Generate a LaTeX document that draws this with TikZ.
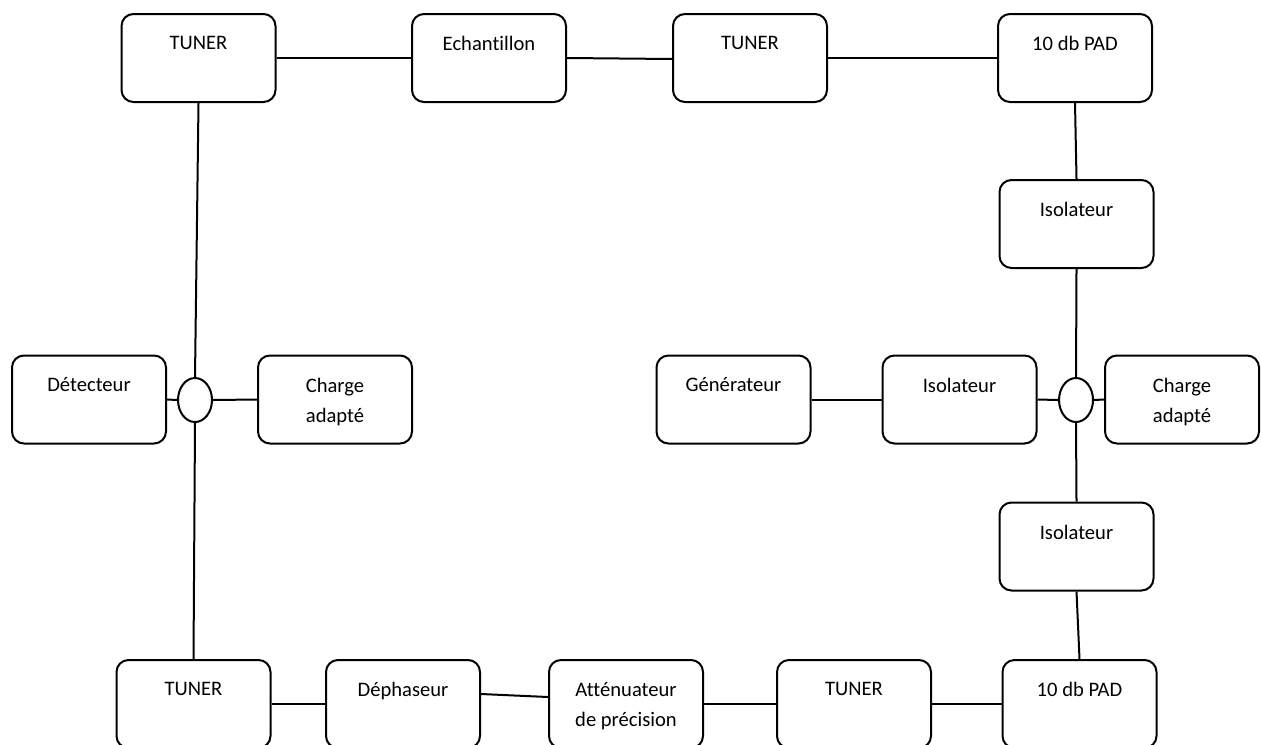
\documentclass[tikz,border=0pt]{standalone}
\usepackage{fontspec}
\setmainfont[Ligatures=CommonOff]{Carlito}
\usetikzlibrary{calc,shapes.geometric}

\tikzset{
  blk/.style={draw, line width=1pt, rounded corners=6pt, minimum width=77pt,
              minimum height=44pt, inner sep=0pt},
  junction/.style={draw, line width=1pt, ellipse, minimum width=17pt,
                   minimum height=22pt, inner sep=0pt},
  lbl/.style={anchor=north, inner sep=0pt, align=center,
              font=\fontsize{10.3}{15}\selectfont},
  wire/.style={line width=1pt}
}

\begin{document}
\begin{tikzpicture}[x=0.5pt, y=-0.5pt]
\useasboundingbox (0,0) rectangle (1261,744);
\clip (0,0) rectangle (1261,744);

% top row
\node[blk] (t1)   at (198.5,58) {};
\node[blk] (ech)  at (489,58)   {};
\node[blk] (t2)   at (750,58)   {};
\node[blk] (pad1) at (1075,58)  {};

% right column
\node[blk] (iso1) at (1076.5,224)   {};
\node[blk] (iso3) at (1076.5,546.5) {};

% middle row
\node[blk] (det)  at (89,399.5) {};
\node[junction] (ell1) at (195,400) {};
\node[blk] (ch1)  at (335,399.5) {};
\node[blk] (gen)  at (733.5,399.5) {};
\node[blk] (iso2) at (959.5,399.5) {};
\node[junction] (ell2) at (1076,400) {};
\node[blk] (ch2)  at (1182,399.5) {};

% bottom row
\node[blk] (t3)   at (193.5,704) {};
\node[blk] (deph) at (403,704)   {};
\node[blk] (att)  at (626,704)   {};
\node[blk] (t4)   at (854,704)   {};
\node[blk] (pad2) at (1079.5,704) {};

% labels
\node[lbl] at ($(t1.north)+(0,23)$)   {TUNER};
\node[lbl] at ($(ech.north)+(0,23)$)  {Echantillon};
\node[lbl] at ($(t2.north)+(0,23)$)   {TUNER};
\node[lbl] at ($(pad1.north)+(0,23)$) {10 db PAD};
\node[lbl] at ($(iso1.north)+(0,23)$) {Isolateur};
\node[lbl] at ($(iso3.north)+(0,23)$) {Isolateur};
\node[lbl] at ($(det.north)+(0,23)$)  {Détecteur};
\node[lbl] at ($(ch1.north)+(0,23)$)  {Charge\\adapté};
\node[lbl] at ($(gen.north)+(0,23)$)  {Générateur};
\node[lbl] at ($(iso2.north)+(0,23)$) {Isolateur};
\node[lbl] at ($(ch2.north)+(0,23)$)  {Charge\\adapté};
\node[lbl] at ($(t3.north)+(0,23)$)   {TUNER};
\node[lbl] at ($(deph.north)+(0,23)$) {Déphaseur};
\node[lbl] at ($(att.north)+(0,23)$)  {Atténuateur\\de précision};
\node[lbl] at ($(t4.north)+(0,23)$)   {TUNER};
\node[lbl] at ($(pad2.north)+(0,23)$) {10 db PAD};

% connections
\draw[wire] (t1.east) -- (ech.west);
\draw[wire] (ech.east) -- ($(t2.west)+(0,1)$);
\draw[wire] (t2.east) -- (pad1.west);
\draw[wire] (pad1.south) -- (iso1.north);
\draw[wire] (iso1.south) -- (ell2.north);
\draw[wire] (ell2.south) -- (iso3.north);
\draw[wire] (iso3.south) -- (pad2.north);
\draw[wire] (gen.east) -- (iso2.west);
\draw[wire] (iso2.east) -- (ell2.west);
\draw[wire] (ell2.east) -- (ch2.west);
\draw[wire] (t1.south) -- (ell1.north);
\draw[wire] (ell1.south) -- (t3.north);
\draw[wire] (det.east) -- (ell1.west);
\draw[wire] (ell1.east) -- (ch1.west);
\draw[wire] (t3.east) -- (deph.west);
\draw[wire] ($(deph.east)+(0,-10)$) -- ($(att.west)+(0,-7)$);
\draw[wire] (att.east) -- (t4.west);
\draw[wire] (t4.east) -- (pad2.west);
\end{tikzpicture}
\end{document}
